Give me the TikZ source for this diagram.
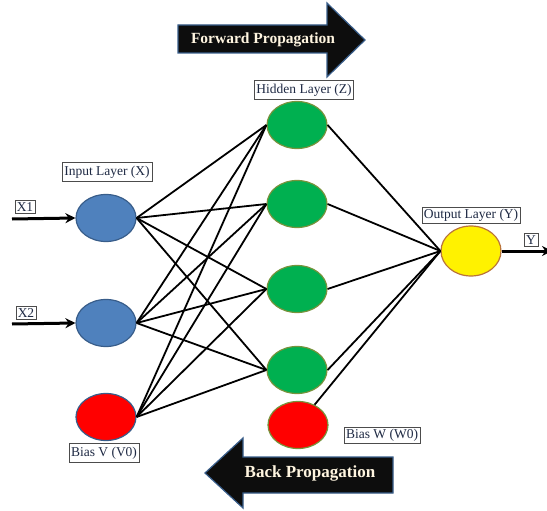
\documentclass[tikz,border=0pt]{standalone}
\usepackage{fontspec}
\setmainfont{Liberation Serif}
\usetikzlibrary{shapes.geometric,arrows.meta}
\definecolor{inblue}{HTML}{4F81BD}
\definecolor{inedge}{HTML}{385D8A}
\definecolor{hidgreen}{HTML}{00B050}
\definecolor{hidedge}{HTML}{77933C}
\definecolor{outedge}{HTML}{B9733A}
\definecolor{labtext}{HTML}{1F2A44}
\definecolor{arrtext}{HTML}{FFF5E0}
\begin{document}
\begin{tikzpicture}[x=1pt,y=-1pt,
    neuron/.style={draw,ellipse,line width=1.2pt,minimum width=60pt,minimum height=47pt,inner sep=0pt},
    lab/.style={draw=black!70,fill=white,inner sep=2pt,text=labtext,font=\fontsize{13.5}{15}\selectfont},
    laylab/.style={lab,minimum height=19pt},
    wire/.style={line width=1.8pt},
    feed/.style={line width=3pt,-{Stealth[length=10pt,width=10pt]}},
    bigarrow/.style={fill=black!95,draw=inedge,line width=1.2pt}]
  \useasboundingbox (0,0) rectangle (547,511);
  % propagation arrows
  \draw[bigarrow] (178,25) -- (327,25) -- (327,3) -- (365,40) -- (327,77) -- (327,53) -- (178,53) -- cycle;
  \node (fwd) at (263,40) [text=arrtext,font=\fontsize{15.5}{17}\selectfont\bfseries] {Forward Propagation};
  \draw[bigarrow] (393,457) -- (243,457) -- (243,438) -- (205,473) -- (243,508) -- (243,493) -- (393,493) -- cycle;
  \node (bwd) at (310,473) [text=arrtext,font=\fontsize{17}{19}\selectfont\bfseries] {Back Propagation};
  % neurons
  \node (x1) at (106,218) [neuron,fill=inblue,draw=inedge] {};
  \node (x2) at (106,323) [neuron,fill=inblue,draw=inedge] {};
  \node (bv) at (106,417) [neuron,fill=red,draw=inedge] {};
  \node (h1) at (297,125) [neuron,fill=hidgreen,draw=hidedge] {};
  \node (h2) at (297,204) [neuron,fill=hidgreen,draw=hidedge] {};
  \node (h3) at (297,289) [neuron,fill=hidgreen,draw=hidedge] {};
  \node (h4) at (297,370) [neuron,fill=hidgreen,draw=hidedge] {};
  \node (bw) at (298,425) [neuron,fill=red,draw=hidedge] {};
  \node (out) at (471,251) [neuron,fill=yellow,draw=outedge,minimum height=50pt] {};
  % labels
  \node (inlab) at (107,172) [laylab] {Input Layer (X)};
  \node (bvlab) at (104,453) [laylab] {Bias V (V0)};
  \node (hidlab) at (304,90) [laylab] {Hidden Layer (Z)};
  \node (outlab) at (471,215) [lab] {Output Layer (Y)};
  \node (bwlab) at (382,435) [lab] {Bias W (W0)};
  \node (x1lab) at (25,207) [lab] {X1};
  \node (x2lab) at (26,313) [lab] {X2};
  \node (ylab) at (531,240) [lab] {Y};
  % input and output arrows
  \coordinate (x1in) at (12,219);
  \coordinate (x2in) at (12,324);
  \coordinate (yout) at (552,251);
  \draw[feed] (x1in) -- (x1.west);
  \draw[feed] (x2in) -- (x2.west);
  \draw[feed] (out.east) -- (yout);
  % weights
  \foreach \i in {x1,x2,bv}
    \foreach \j in {h1,h2,h3,h4}
      \draw[wire] (\i.east) -- (\j.west);
  \foreach \j in {h1,h2,h3,h4}
    \draw[wire] (\j.east) -- (out.west);
  \draw[wire] (bw) -- (out.west);
\end{tikzpicture}
\end{document}
